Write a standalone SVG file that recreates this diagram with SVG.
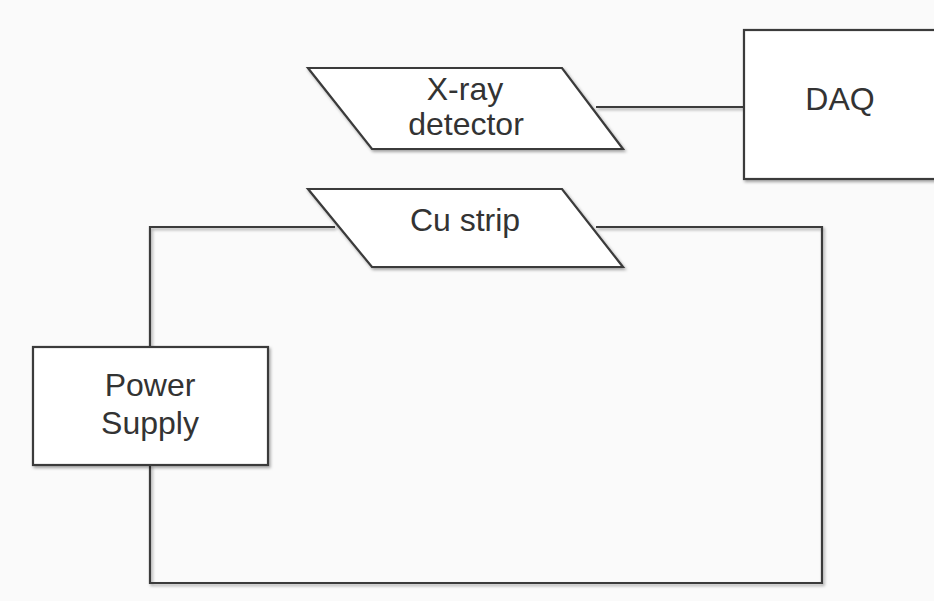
<svg xmlns="http://www.w3.org/2000/svg" width="934" height="601" viewBox="0 0 934 601">
<defs>
<filter id="sh" filterUnits="userSpaceOnUse" x="0" y="0" width="934" height="601">
<feDropShadow dx="1.5" dy="2" stdDeviation="1.5" flood-color="#000" flood-opacity="0.35"/>
</filter>
<style>
.shape{fill:#ffffff;stroke:#3a3a3a;stroke-width:2.2;filter:url(#sh)}
.wire{fill:none;stroke:#3a3a3a;stroke-width:2.2;filter:url(#sh)}
.lbl{font-family:"Liberation Sans",Arial,sans-serif;font-size:32px;fill:#333;text-anchor:middle}
</style>
</defs>
<rect width="934" height="601" fill="#fafafa"/>
<g id="connectors">
<path class="wire" d="M596 107 H744"/>
<path class="wire" d="M335 227 H150 V347 M150 465 V583 H822 V227 H596"/>
</g>
<g id="xray">
<polygon class="shape" points="308,68 562,68 623,149 372,149"/>
<text class="lbl" x="465" y="100">X-ray</text>
<text class="lbl" x="466" y="135">detector</text>
</g>
<g id="daq">
<rect class="shape" x="744" y="30" width="200" height="149"/>
<text class="lbl" x="840" y="110">DAQ</text>
</g>
<g id="custrip">
<polygon class="shape" points="308,189 562,189 623,267 372,267"/>
<text class="lbl" x="465" y="231">Cu strip</text>
</g>
<g id="power">
<rect class="shape" x="33" y="347" width="235" height="118"/>
<text class="lbl" x="150" y="396">Power</text>
<text class="lbl" x="150" y="434">Supply</text>
</g>
</svg>
